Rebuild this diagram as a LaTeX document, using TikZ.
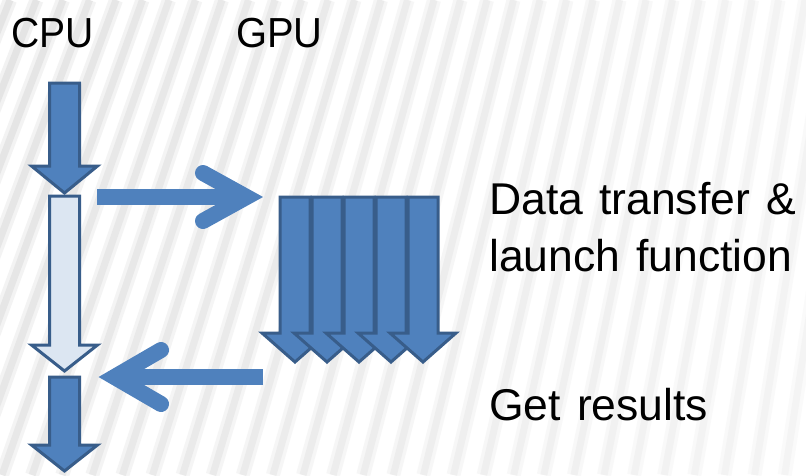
\documentclass[tikz,border=0pt]{standalone}
\usepackage{fontspec}
\setmainfont{Liberation Sans}
\newfontfamily\stepfont[WordSpace=1.3]{Liberation Sans}
\definecolor{blockfill}{HTML}{4F81BD}
\definecolor{blockline}{HTML}{385D8A}
\definecolor{blocklight}{HTML}{DCE6F2}

% block arrow pointing down: style, centre x, top y, head start y, tip y
\newcommand{\blockdown}[5]{%
  \draw[#1] (#2-15,#3) -- (#2+15,#3) -- (#2+15,#4) -- (#2+33,#4)
    -- (#2,#5) -- (#2-33,#4) -- (#2-15,#4) -- cycle;}

\begin{document}
\begin{tikzpicture}[x=1pt,y=-1pt,
  solidblock/.style={fill=blockfill,draw=blockline,line width=3pt,line join=miter},
  hollowblock/.style={fill=blocklight,draw=blockline,line width=3pt,line join=miter},
  shaftline/.style={draw=blockfill,line width=16pt,line cap=butt},
  chevron/.style={draw=blockfill,line width=16pt,line cap=round,line join=miter,miter limit=4},
  steptext/.style={anchor=base west,inner sep=0pt,font=\stepfont\fontsize{44.5}{50}\selectfont},
  headtext/.style={anchor=base west,inner sep=0pt,font=\fontsize{42}{50}\selectfont}]
\useasboundingbox (0,0) rectangle (806,475);
\fill[white] (0,0) rectangle (806,475);

% soft diagonal stripes of the backdrop
\begin{scope}
\clip (0,0) rectangle (806,475);
\foreach \i in {-10,...,40}{
  \pgfmathsetmacro{\xt}{10+26.5*\i}
  \pgfmathsetmacro{\xb}{\xt-(190-0.136*\xt)}
  \pgfmathsetmacro{\k}{max(5,14-8*\xt/806)}
  \draw[line width=14pt,color=black!\k!white,opacity=0.35] (\xt,0) -- (\xb,475);
  \draw[line width=7pt,color=black!\k!white,opacity=0.6] (\xt,0) -- (\xb,475);
}
\end{scope}

% column headings
\node[headtext] (cpu) at (11,47) {\scalebox{0.93}[1]{CPU}};
\node[headtext] (gpu) at (236,47) {\scalebox{0.95}[1]{GPU}};

% CPU time line
\blockdown{solidblock}{64.5}{83}{166}{193}
\blockdown{hollowblock}{64.5}{196}{345}{371}
\blockdown{solidblock}{64.5}{377}{445}{471}

% GPU threads
\foreach \cx in {295,327,359,391,423}{
  \blockdown{solidblock}{\cx}{197}{333}{362}
}

% transfer to the GPU
\coordinate (sendA) at (97,197);
\coordinate (sendB) at (246.5,197);
\coordinate (sendU) at (203,173);
\coordinate (sendL) at (203,221);
\draw[shaftline] (sendA) -- (236,197);
\draw[chevron] (sendU) -- (sendB) -- (sendL);

% results back to the CPU
\coordinate (backA) at (263,377);
\coordinate (backB) at (114.5,377);
\coordinate (backU) at (161,350);
\coordinate (backL) at (161,404);
\draw[shaftline] (backA) -- (124,377);
\draw[chevron] (backU) -- (backB) -- (backL);

% step labels
\node[steptext] (data) at (489,214) {Data transfer \&};
\node[steptext] (launch) at (489,271) {launch function};
\node[steptext] (get) at (489,420) {Get results};
\end{tikzpicture}
\end{document}
